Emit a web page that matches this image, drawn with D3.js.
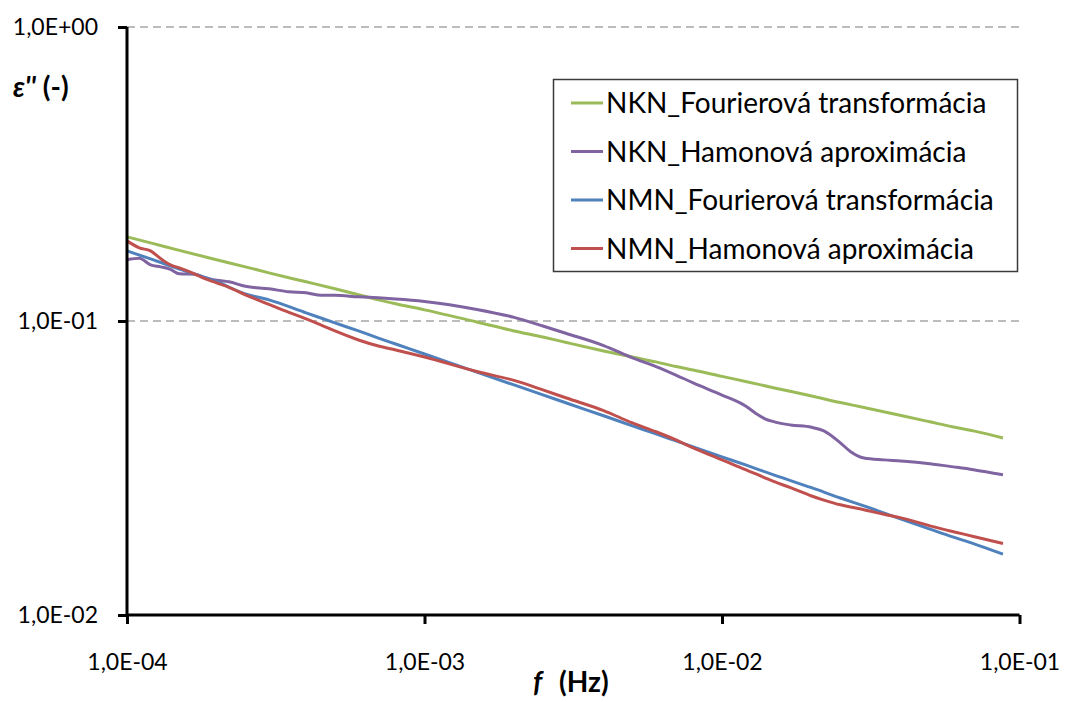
<!DOCTYPE html>
<html>
<head>
<meta charset="utf-8">
<script src="https://cdn.jsdelivr.net/npm/d3@7"></script>
<style>
  body { margin: 0; background: #fff; }
  svg { display: block; font-family: Lato, "Liberation Sans", sans-serif; }
</style>
</head>
<body>
<div id="wrapper"></div>
<script>
// frequencies (Hz) and loss factor values
const fourierFreq = [1e-4, 1.2e-4, 1.5e-4, 2e-4, 2.5e-4, 3e-4, 4e-4, 5e-4, 6e-4, 7e-4, 8e-4,
  1e-3, 1.5e-3, 2e-3, 2.5e-3, 3e-3, 4e-3, 5e-3, 6e-3, 7e-3, 8e-3,
  1e-2, 1.2e-2, 1.5e-2, 2e-2, 2.5e-2, 3e-2, 4e-2, 5e-2, 6e-2, 7e-2, 8.8e-2]

const nknFourier = [0.1933, 0.1844, 0.1739, 0.1615, 0.1528, 0.1458, 0.1359, 0.1287, 0.1228, 0.1180, 0.1144,
  0.1091, 0.0992, 0.0925, 0.0882, 0.0845, 0.0791, 0.0754, 0.0726, 0.0700, 0.0681,
  0.0648, 0.0623, 0.0592, 0.0556, 0.0528, 0.0508, 0.0477, 0.0454, 0.0436, 0.0423, 0.0400]

const nmnFourier = [0.1732, 0.1626, 0.1503, 0.1360, 0.1237, 0.1180, 0.1066, 0.0985, 0.0925, 0.0875, 0.0835,
  0.0772, 0.0670, 0.0606, 0.0561, 0.0526, 0.0476, 0.0440, 0.0413, 0.0391, 0.0373,
  0.0345, 0.0324, 0.0299, 0.0271, 0.0250, 0.0235, 0.0212, 0.0196, 0.0184, 0.0175, 0.0161]

const hamonFreq = [1e-4, 1.1e-4, 1.2e-4, 1.3e-4, 1.4e-4, 1.5e-4, 1.7e-4, 1.8e-4, 2e-4, 2.2e-4, 2.5e-4,
  3e-4, 3.5e-4, 4e-4, 4.5e-4, 5e-4, 6e-4, 7e-4, 8e-4,
  1e-3, 1.5e-3, 2e-3, 2.5e-3, 3e-3, 4e-3, 5e-3, 6e-3, 7e-3, 8e-3,
  1e-2, 1.2e-2, 1.3e-2, 1.4e-2, 1.5e-2, 1.7e-2, 2e-2, 2.2e-2, 2.5e-2, 2.7e-2,
  3e-2, 3.5e-2, 4e-2, 5e-2, 6e-2, 7e-2, 8.8e-2]

const nknHamon = [0.1615, 0.1634, 0.1552, 0.1528, 0.1498, 0.1447, 0.1441, 0.1413, 0.1375, 0.1359, 0.1312,
  0.1287, 0.1257, 0.1247, 0.1223, 0.1223, 0.1208, 0.1199, 0.1189,
  0.1166, 0.1095, 0.1029, 0.0962, 0.0907, 0.0825, 0.0749, 0.0700, 0.0655, 0.0616,
  0.0560, 0.0514, 0.0485, 0.0464, 0.0454, 0.0443, 0.0435, 0.0423, 0.0385, 0.0360,
  0.0342, 0.0337, 0.0334, 0.0327, 0.0319, 0.0312, 0.0300]

const nmnHamon = [0.1873, 0.1773, 0.1732, 0.1627, 0.1552, 0.1516, 0.1441, 0.1402, 0.1348, 0.1302, 0.1228,
  0.1139, 0.1070, 0.1017, 0.0969, 0.0925, 0.0862, 0.0822, 0.0797,
  0.0754, 0.0673, 0.0628, 0.0583, 0.0547, 0.0496, 0.0450, 0.0420, 0.0394, 0.0370,
  0.0337, 0.0312, 0.0302, 0.0292, 0.0284, 0.0271, 0.0254, 0.0246, 0.0237, 0.0233,
  0.0228, 0.0220, 0.0214, 0.0201, 0.0192, 0.0185, 0.0175]

const seriesNames = [
  "NKN_Fourierová transformácia",
  "NKN_Hamonová aproximácia",
  "NMN_Fourierová transformácia",
  "NMN_Hamonová aproximácia"
]
const seriesColors = ["#9bbb59", "#8064a2", "#4f81bd", "#c0504d"]

const xTicks = [1e-4, 1e-3, 1e-2, 1e-1]
const yTicks = [1, 1e-1, 1e-2]

function drawChart() {
  const zip = (xs, ys) => xs.map((x, i) => ({ f: x, e: ys[i] }))
  const series = [
    zip(fourierFreq, nknFourier),
    zip(hamonFreq, nknHamon),
    zip(fourierFreq, nmnFourier),
    zip(hamonFreq, nmnHamon)
  ]

  const dims = {
    width: 1066,
    height: 702,
    left: 127,
    right: 1019.5,
    top: 27,
    bottom: 615
  }

  const svg = d3.select("#wrapper")
    .append("svg")
      .attr("width", dims.width)
      .attr("height", dims.height)

  const xScale = d3.scaleLog()
    .domain([1e-4, 1e-1])
    .range([dims.left, dims.right])

  const yScale = d3.scaleLog()
    .domain([1e-2, 1])
    .range([dims.bottom, dims.top])

  const sci = d => {
    const p = Math.round(Math.log10(d))
    return "1,0E" + (p < 0 ? "-" : "+") + String(Math.abs(p)).padStart(2, "0")
  }

  // gridlines
  svg.append("g")
    .selectAll("line")
    .data(yTicks.filter(d => d > 1e-2))
    .join("line")
      .attr("x1", dims.left)
      .attr("x2", dims.right)
      .attr("y1", d => yScale(d))
      .attr("y2", d => yScale(d))
      .attr("stroke", "#a6a6a6")
      .attr("stroke-width", 1.5)
      .attr("stroke-dasharray", "8,5")

  // lines
  const lineGen = d3.line()
    .x(d => xScale(d.f))
    .y(d => yScale(d.e))
    .curve(d3.curveMonotoneX)

  svg.append("g")
    .selectAll("path")
    .data(series)
    .join("path")
      .attr("d", lineGen)
      .attr("fill", "none")
      .attr("stroke", (d, i) => seriesColors[i])
      .attr("stroke-width", 3)
      .attr("stroke-linejoin", "round")

  // axes
  const xAxis = svg.append("g")
    .attr("transform", `translate(0,${dims.bottom})`)
    .call(d3.axisBottom(xScale).tickValues(xTicks).tickFormat(sci).tickSize(9).tickPadding(30))
  const yAxis = svg.append("g")
    .attr("transform", `translate(${dims.left},0)`)
    .call(d3.axisLeft(yScale).tickValues(yTicks).tickFormat(sci).tickSize(9).tickPadding(20))

  for (const ax of [xAxis, yAxis]) {
    ax.select(".domain").attr("stroke", "#000").attr("stroke-width", 3)
    ax.selectAll(".tick line").attr("stroke", "#000").attr("stroke-width", 3)
    ax.selectAll(".tick text")
      .attr("fill", "#000")
      .style("font-family", "Lato, sans-serif")
      .style("font-size", "23px")
  }
  xAxis.select(".domain").attr("d", `M${dims.left},0H${dims.right}`)
  yAxis.select(".domain").attr("d", `M0,${dims.bottom}V${dims.top}`)

  // axis titles
  const yTitle = svg.append("text")
    .attr("x", 13)
    .attr("y", 97)
    .style("font-size", "28px")
    .style("font-weight", "bold")
  yTitle.append("tspan").style("font-style", "italic").text("ε''")
  yTitle.append("tspan").text(" (-)")

  const xTitle = svg.append("text")
    .attr("x", 533)
    .attr("y", 692)
    .style("font-size", "28px")
    .style("font-weight", "bold")
  xTitle.append("tspan").style("font-style", "italic").text("f")
  xTitle.append("tspan").attr("dx", 10).text(" (Hz)")

  // legend
  const legend = svg.append("g")
  legend.append("rect")
    .attr("x", 553.5)
    .attr("y", 79.5)
    .attr("width", 464)
    .attr("height", 192)
    .attr("fill", "#fff")
    .attr("stroke", "#3a3a3a")
    .attr("stroke-width", 1.5)

  const items = legend.selectAll("g.item")
    .data(seriesNames)
    .join("g")
      .attr("class", "item")
      .attr("transform", (d, i) => `translate(0,${103 + i * 48.5})`)
  items.append("line")
    .attr("x1", 571)
    .attr("x2", 603)
    .attr("stroke", (d, i) => seriesColors[i])
    .attr("stroke-width", 3)
  items.append("text")
    .attr("x", 606)
    .attr("y", 10)
    .style("font-size", "28px")
    .attr("fill", "#000")
    .text(d => d)
}
drawChart()
</script>
</body>
</html>
